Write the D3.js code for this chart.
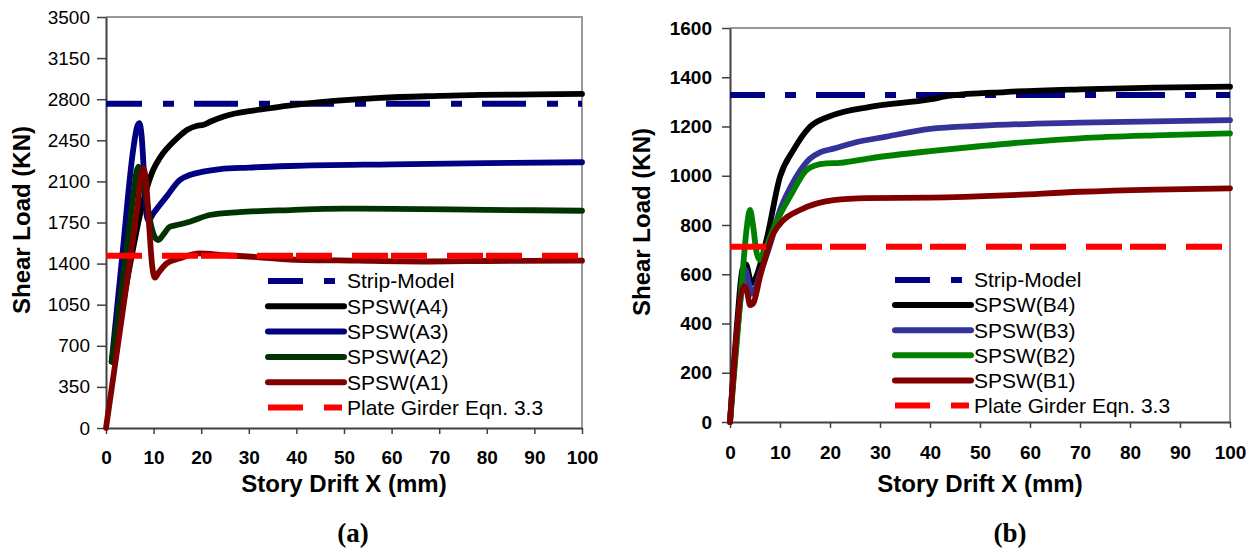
<!DOCTYPE html>
<html>
<head>
<meta charset="utf-8">
<script src="https://cdn.jsdelivr.net/npm/d3@7"></script>
<style>
  body { margin: 0; background: #fff; }
  svg { display: block; font-family: 'Liberation Sans', Arial, sans-serif; }
</style>
</head>
<body>
<svg id="chart" width="1258" height="552"></svg>
<script>
// ---- data ----
const driftTicks = [0, 10, 20, 30, 40, 50, 60, 70, 80, 90, 100];
const loadTicksA = [0, 350, 700, 1050, 1400, 1750, 2100, 2450, 2800, 3150, 3500];
const loadTicksB = [0, 200, 400, 600, 800, 1000, 1200, 1400, 1600];

const stripA = 2762;
const plateA = 1467;
const stripB = 1328;
const plateB = 712;

const legendA = ['Strip-Model', 'SPSW(A4)', 'SPSW(A3)', 'SPSW(A2)', 'SPSW(A1)', 'Plate Girder Eqn. 3.3'];
const legendB = ['Strip-Model', 'SPSW(B4)', 'SPSW(B3)', 'SPSW(B2)', 'SPSW(B1)', 'Plate Girder Eqn. 3.3'];

// [drift mm, shear kN]
const a4 = [[1.2, 565], [3.5, 1050], [5.7, 1530], [7, 1790], [8.2, 1990], [9.9, 2197], [11.3, 2300],
  [12.8, 2380], [15, 2470], [17, 2538], [19, 2572], [20.5, 2582], [22, 2610], [24.6, 2651], [31.7, 2708],
  [37, 2738], [45, 2775], [57.6, 2812], [70, 2828], [78.6, 2836], [90, 2841], [100, 2845]];
const a3 = [[1.2, 565], [3.5, 1500], [5.7, 2367], [6.5, 2560], [7.0, 2595], [7.5, 2480], [8.0, 2150],
  [8.5, 1820], [8.9, 1765], [10, 1830], [12.7, 1970], [15.5, 2112], [17.6, 2154], [20.4, 2183], [24, 2205],
  [30, 2218], [38.7, 2231], [60, 2245], [80, 2255], [100, 2263]];
const a2 = [[1.2, 565], [3.5, 1250], [5.8, 2000], [6.4, 2180], [6.8, 2225], [7.4, 2180], [8.5, 1950],
  [9.5, 1720], [10.2, 1630], [11, 1601], [12, 1645], [13.4, 1714], [14.5, 1725], [17.6, 1757], [21.8, 1814],
  [28, 1838], [38.7, 1856], [50, 1868], [60, 1866], [80, 1858], [100, 1850]];
const a1 = [[0, 0], [4.35, 1232], [6.8, 1950], [7.4, 2160], [7.85, 2211], [8.4, 2100], [9.1, 1700],
  [9.7, 1380], [10.3, 1280], [11, 1320], [12.75, 1402], [15.5, 1445], [19.7, 1487], [24.6, 1473],
  [31.7, 1456], [38.7, 1435], [52.7, 1425], [66.7, 1418], [80, 1422], [100, 1425]];

const b4 = [[0, 0], [1.5, 420], [2.5, 620], [3.2, 640], [4.3, 563], [5, 580], [7.3, 739], [10, 996],
  [12.7, 1105], [16, 1199], [20.7, 1247], [28, 1280], [40, 1310], [44, 1325], [55, 1340], [70, 1351],
  [85, 1358], [100, 1362]];
const b3 = [[0, 0], [2.5, 560], [3, 620], [3.8, 560], [4.3, 520], [5, 540], [6, 600], [8, 720],
  [10, 860], [12, 950], [14, 1020], [16, 1070], [18, 1095], [20.7, 1110], [25, 1135], [31.3, 1159],
  [40, 1190], [50, 1203], [70, 1216], [100, 1226]];
const b2 = [[0, 0], [2.5, 600], [3.3, 780], [4, 861], [4.6, 800], [5.3, 690], [6, 658], [6.8, 690],
  [9.3, 813], [12, 915], [15.3, 1023], [17, 1042], [19.3, 1050], [22, 1052], [28, 1071], [40, 1100],
  [50, 1120], [60, 1138], [70, 1152], [85, 1164], [100, 1172]];
const b1 = [[0, 0], [2.87, 552], [3.5, 520], [4, 475], [4.6, 480], [6, 590], [8.7, 766], [10.7, 820],
  [14, 861], [20.7, 901], [27.3, 909], [40, 911], [55, 920], [70, 935], [85, 944], [100, 949]];

const svg = d3.select('#chart');

function panel(cfg) {
  const x = d3.scaleLinear().domain([0, 100]).range([cfg.left, cfg.right]);
  const y = d3.scaleLinear().domain([0, cfg.max]).range([cfg.bottom, cfg.top]);
  const g = svg.append('g');

  // frame: light top / right
  g.append('path')
    .attr('d', `M${cfg.left},${cfg.top}H${cfg.right}V${cfg.bottom}`)
    .attr('fill', 'none')
    .attr('stroke', '#999')
    .attr('stroke-width', 2);

  const yAxis = g.append('g')
    .attr('transform', `translate(${cfg.left},0)`)
    .call(d3.axisLeft(y).tickValues(cfg.yTicks).tickFormat(d3.format('d'))
      .tickSize(cfg.ytick).tickPadding(cfg.ypad).tickSizeOuter(0));
  yAxis.selectAll('text')
    .style('font-size', '19px')
    .style('font-weight', cfg.yBold ? 'bold' : 'normal')
    .attr('fill', '#000');

  const xAxis = g.append('g')
    .attr('transform', `translate(0,${cfg.bottom})`)
    .call(d3.axisBottom(x).tickValues(driftTicks).tickFormat(d3.format('d'))
      .tickSize(6).tickPadding(cfg.xpad).tickSizeOuter(0));
  xAxis.selectAll('text')
    .style('font-size', '19px')
    .style('font-weight', 'bold')
    .attr('fill', '#000');

  [yAxis, xAxis].forEach((a) => {
    a.attr('font-family', null).attr('font-size', null);
    a.select('.domain').attr('stroke', '#404040').attr('stroke-width', 2);
    a.selectAll('.tick line').attr('stroke', '#404040').attr('stroke-width', 1.5);
  });

  // horizontal reference lines
  g.append('line')
    .attr('x1', x(0)).attr('x2', x(100))
    .attr('y1', y(cfg.strip)).attr('y2', y(cfg.strip))
    .attr('stroke', '#000080')
    .attr('stroke-width', 6)
    .attr('stroke-dasharray', cfg.stripDash)
    .attr('stroke-dashoffset', cfg.stripOff);

  const line = d3.line()
    .x((d) => x(d[0]))
    .y((d) => y(d[1]))
    .curve(d3.curveMonotoneX);

  g.selectAll('.curve')
    .data(cfg.series)
    .enter()
    .append('path')
    .attr('class', 'curve')
    .attr('d', (d) => line(d.values))
    .attr('fill', 'none')
    .attr('stroke', (d) => d.color)
    .attr('stroke-width', 5.8)
    .attr('stroke-linejoin', 'round')
    .attr('stroke-linecap', 'round');

  g.append('line')
    .attr('x1', x(0)).attr('x2', x(100) - 4)
    .attr('y1', y(cfg.plate)).attr('y2', y(cfg.plate))
    .attr('stroke', '#ff0000')
    .attr('stroke-width', 6)
    .attr('stroke-dasharray', cfg.plateDash)
    .attr('stroke-dashoffset', cfg.plateOff);

  // legend
  const colors = ['#000080'].concat(cfg.series.map((d) => d.color)).concat(['#ff0000']);
  const leg = g.selectAll('.leg')
    .data(cfg.legend)
    .enter()
    .append('g')
    .attr('class', 'leg')
    .attr('transform', (d, i) => `translate(${cfg.legX},${cfg.legY + i * cfg.legStep})`);

  leg.append('line')
    .attr('x1', 2).attr('x2', (d, i) => (i === 0 ? 69 : i === 5 ? 76 : 78))
    .attr('stroke', (d, i) => colors[i])
    .attr('stroke-width', 6)
    .attr('stroke-linecap', (d, i) => (i === 0 || i === 5 ? 'butt' : 'round'))
    .attr('stroke-dasharray', (d, i) => (i === 0 || i === 5 ? '35,21' : null));

  leg.append('text')
    .text((d) => d)
    .attr('x', 81)
    .attr('dy', '0.35em')
    .style('font-size', '21px')
    .attr('fill', '#000');

  // axis titles
  g.append('text')
    .text('Story Drift X (mm)')
    .attr('x', (cfg.left + cfg.right) / 2)
    .attr('y', 492)
    .attr('text-anchor', 'middle')
    .style('font-size', '24px')
    .style('font-weight', 'bold');

  g.append('text')
    .text('Shear Load (KN)')
    .attr('transform', `translate(${cfg.titleX},${cfg.titleY}) rotate(-90)`)
    .attr('text-anchor', 'middle')
    .style('font-size', '24px')
    .style('font-weight', 'bold');

  g.append('text')
    .text(cfg.tag)
    .attr('x', cfg.tagX)
    .attr('y', 542)
    .attr('text-anchor', 'middle')
    .style('font-family', "'Liberation Serif', 'Times New Roman', serif")
    .style('font-size', '27px')
    .style('font-weight', 'bold');
}

panel({
  left: 106, right: 582, top: 17, bottom: 428, max: 3500,
  yTicks: loadTicksA, ytick: 9, ypad: 7, yBold: false, xpad: 17,
  strip: stripA, plate: plateA,
  stripDash: '44,21,11,20', stripOff: 8,
  plateDash: '36,3,36,20', plateOff: 39,
  series: [
    { values: a4, color: '#000000' },
    { values: a3, color: '#000080' },
    { values: a2, color: '#003300' },
    { values: a1, color: '#800000' },
  ],
  legend: legendA, legX: 266, legY: 281, legStep: 25.3,
  titleX: 30, titleY: 220, tag: '(a)', tagX: 353,
});

panel({
  left: 730, right: 1230, top: 28, bottom: 422, max: 1600,
  yTicks: loadTicksB, ytick: 8, ypad: 10, yBold: true, xpad: 18,
  strip: stripB, plate: plateB,
  stripDash: '49,20,11,20', stripOff: 14,
  plateDash: '36,8,36,20', plateOff: 44,
  series: [
    { values: b4, color: '#000000' },
    { values: b3, color: '#333399' },
    { values: b2, color: '#008000' },
    { values: b1, color: '#800000' },
  ],
  legend: legendB, legX: 893, legY: 280, legStep: 25.1,
  titleX: 650, titleY: 222, tag: '(b)', tagX: 1010,
});
</script>
</body>
</html>
